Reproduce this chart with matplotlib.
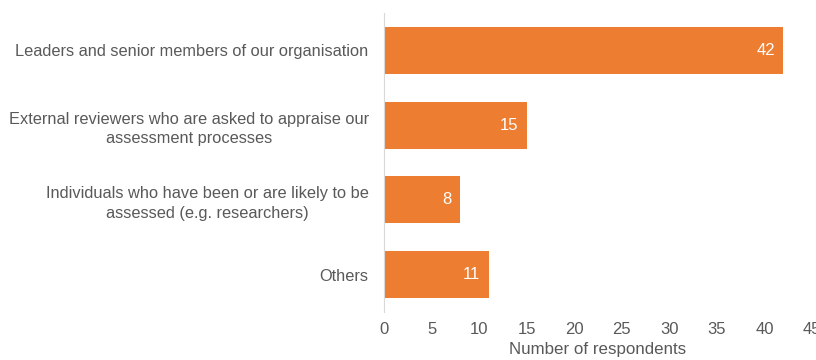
import matplotlib
matplotlib.use("Agg")
import matplotlib.pyplot as plt

# ---------------------- Data ----------------------

categories = [
    "Leaders and senior members of our organisation",
    "External reviewers who are asked to appraise our\nassessment processes",
    "Individuals who have been or are likely to be\nassessed (e.g. researchers)",
    "Others",
]
respondents = [42, 15, 8, 11]
x_ticks = [0, 5, 10, 15, 20, 25, 30, 35, 40, 45]

BAR_COLOUR = "#ED7D31"
TEXT_COLOUR = "#595959"

# ---------------------- Plot ----------------------

plt.rcParams["font.family"] = ["Liberation Sans", "DejaVu Sans"]

fig = plt.figure(figsize=(8.16, 3.6), dpi=100)
ax = fig.add_axes([0.4706, 0.1333, 0.5245, 0.8306])

y = list(range(len(categories)))
bars = ax.barh(y, respondents, height=0.63, color=BAR_COLOUR)
ax.set_ylim(len(categories) - 0.5, -0.5)
ax.set_xlim(0, 45)

for rect, val in zip(bars, respondents):
    ax.text(rect.get_width() - 0.9, rect.get_y() + rect.get_height() / 2,
            str(val), ha="right", va="center", color="white", fontsize=12)

ax.set_yticks(y)
ax.set_yticklabels(categories, multialignment="center", linespacing=1.35)
ax.set_xticks(x_ticks)
ax.tick_params(axis="y", length=0, colors=TEXT_COLOUR, labelsize=11.8, pad=11)
ax.tick_params(axis="x", length=0, colors=TEXT_COLOUR, labelsize=12, pad=7)
ax.set_xlabel("Number of respondents", color=TEXT_COLOUR, fontsize=12.2, labelpad=4)

for side in ("top", "right", "bottom"):
    ax.spines[side].set_visible(False)
ax.spines["left"].set_color("#D9D9D9")
ax.spines["left"].set_linewidth(0.8)

fig.savefig("out.png", dpi=100)
